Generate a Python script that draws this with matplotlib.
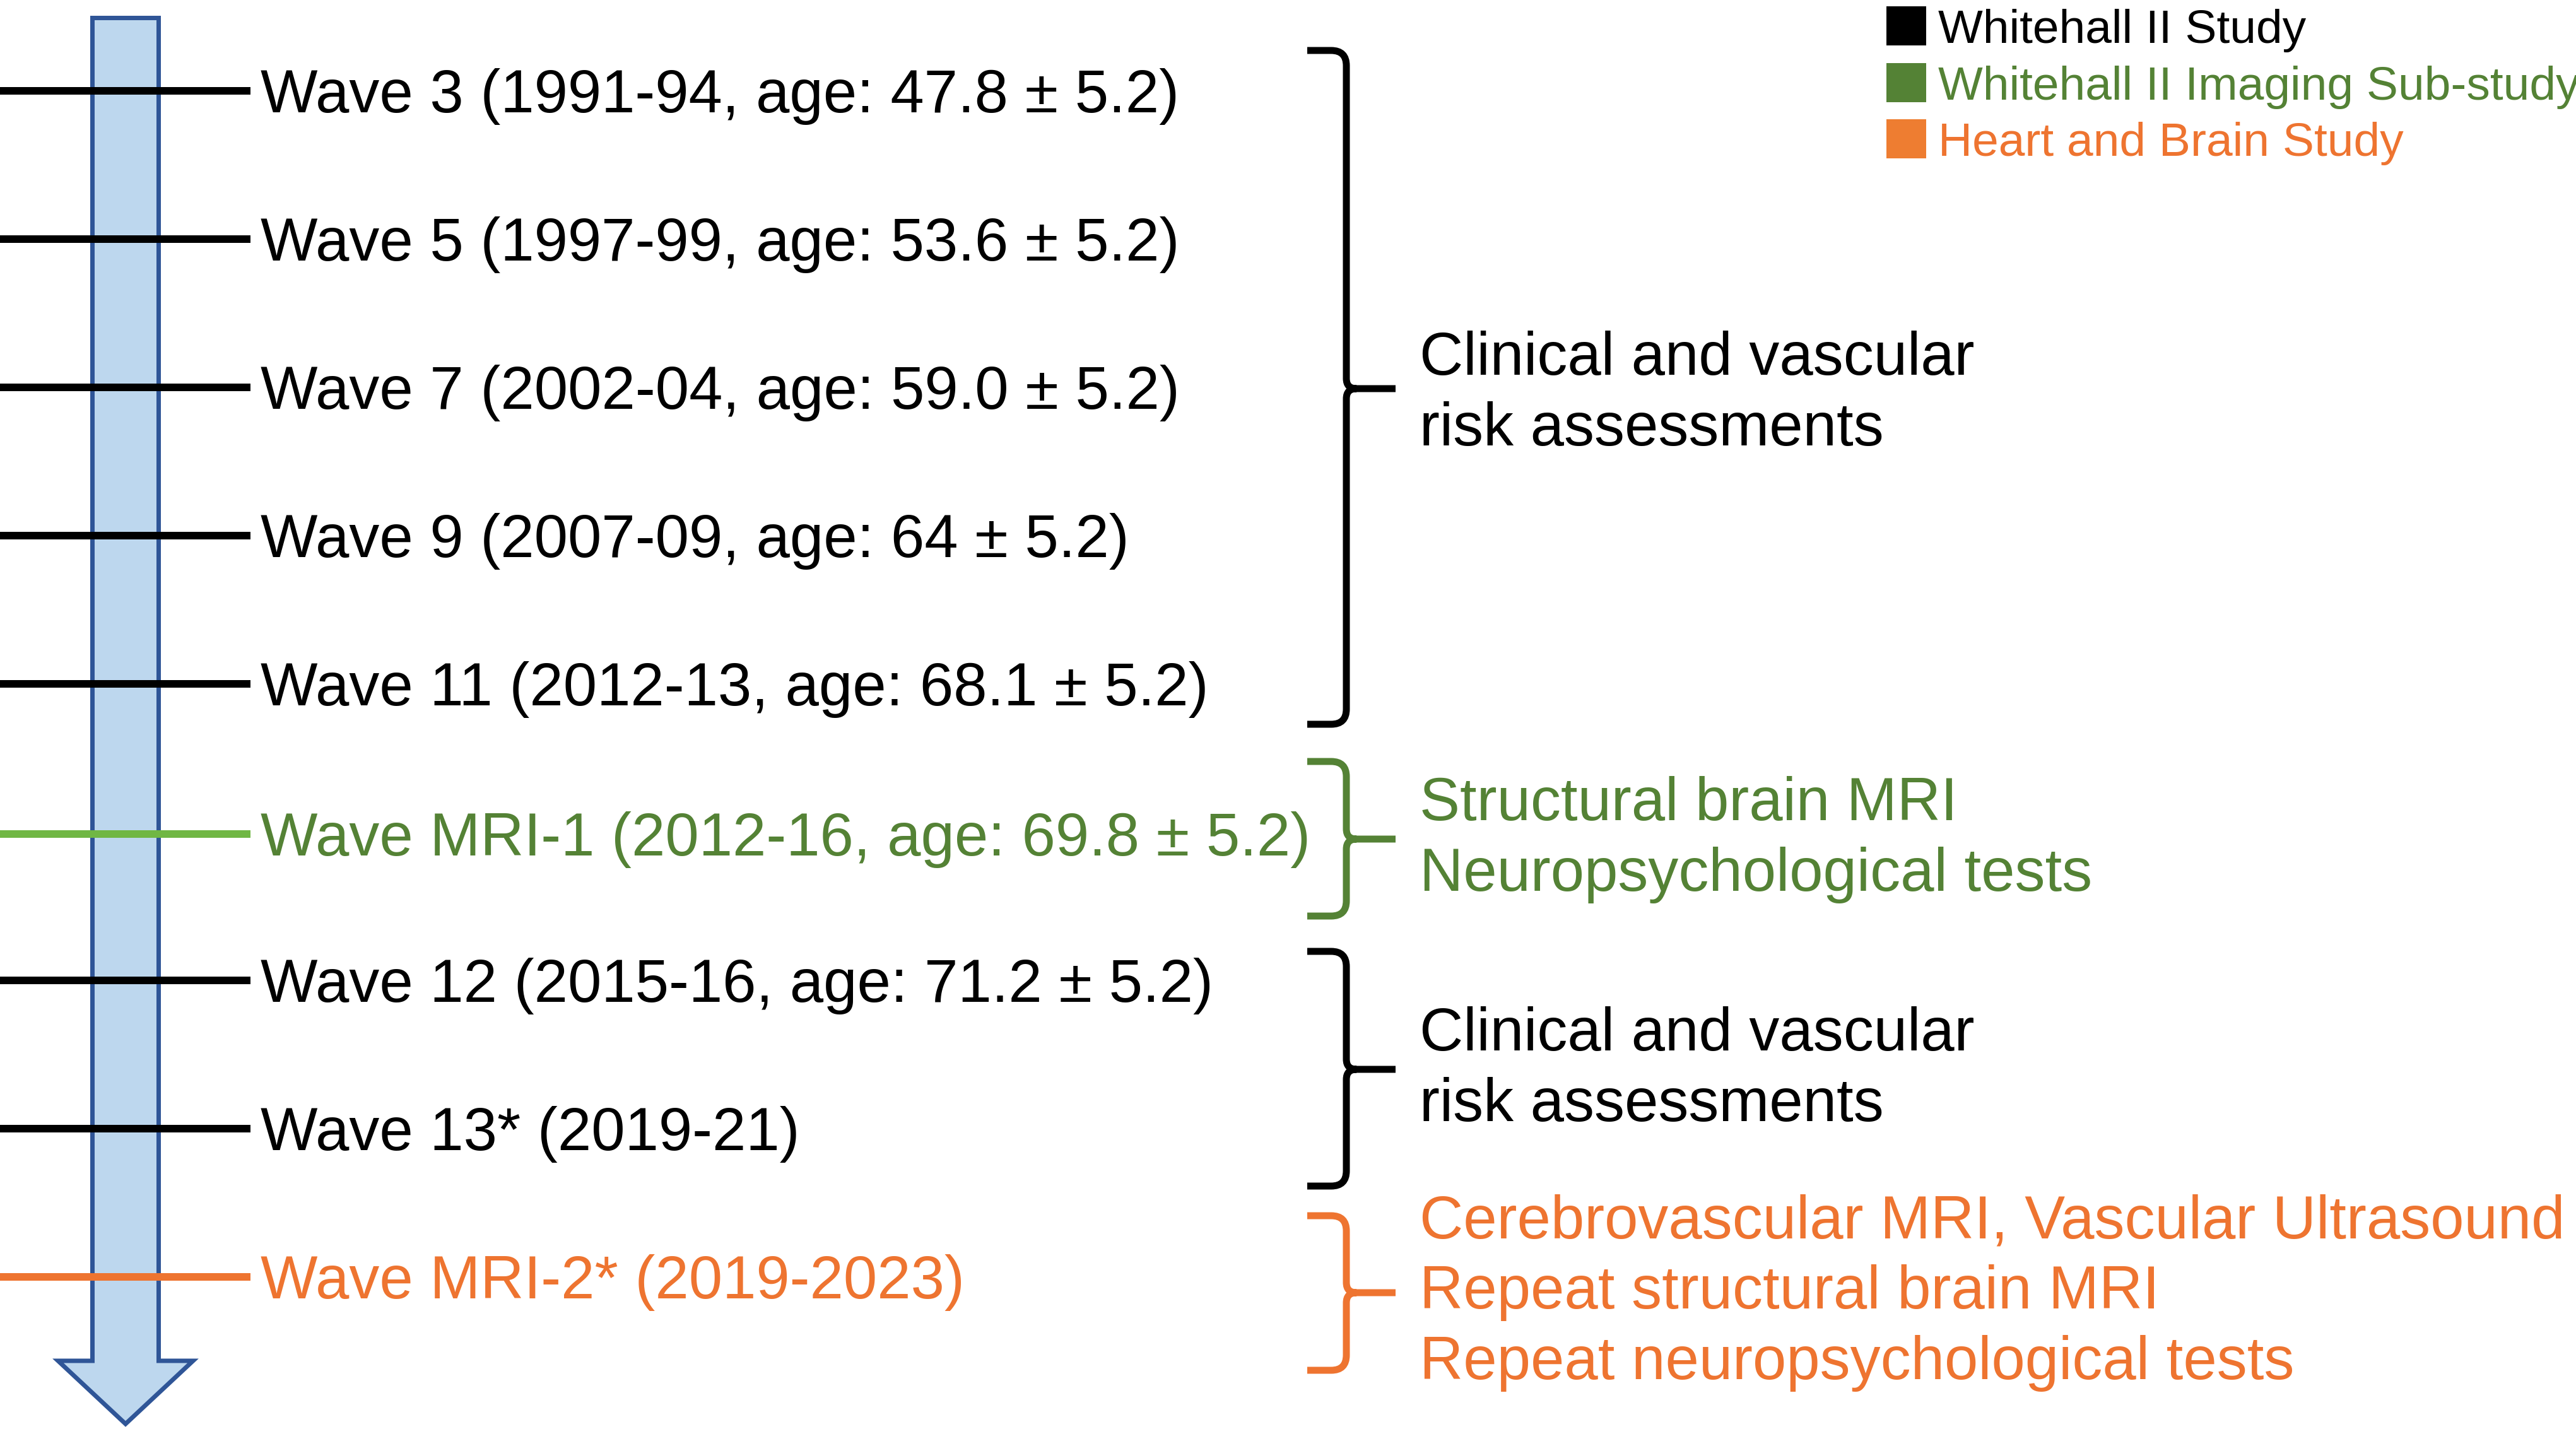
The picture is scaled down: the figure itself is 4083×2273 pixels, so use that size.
import matplotlib
matplotlib.use("Agg")
import matplotlib.pyplot as plt
from matplotlib.path import Path
from matplotlib.patches import PathPatch, Polygon, Rectangle

plt.rcParams['font.family'] = ['Liberation Sans', 'DejaVu Sans']

# ---- data ----
wave_labels = [
    "Wave 3 (1991-94, age: 47.8 \u00b1 5.2)",
    "Wave 5 (1997-99, age: 53.6 \u00b1 5.2)",
    "Wave 7 (2002-04, age: 59.0 \u00b1 5.2)",
    "Wave 9 (2007-09, age: 64 \u00b1 5.2)",
    "Wave 11 (2012-13, age: 68.1 \u00b1 5.2)",
    "Wave MRI-1 (2012-16, age: 69.8 \u00b1 5.2)",
    "Wave 12 (2015-16, age: 71.2 \u00b1 5.2)",
    "Wave 13* (2019-21)",
    "Wave MRI-2* (2019-2023)",
]
wave_study = [0, 0, 0, 0, 0, 1, 0, 0, 2]

group_texts = [
    ["Clinical and vascular", "risk assessments"],
    ["Structural brain MRI", "Neuropsychological tests"],
    ["Clinical and vascular", "risk assessments"],
    ["Cerebrovascular MRI, Vascular Ultrasound", "Repeat structural brain MRI",
     "Repeat neuropsychological tests"],
]
group_study = [0, 1, 0, 2]

legend_labels = ["Whitehall II Study", "Whitehall II Imaging Sub-study", "Heart and Brain Study"]

# ---- style / layout ----
text_colors = ["#000000", "#548235", "#EE7430"]
line_colors = ["#000000", "#70B744", "#EE7430"]
legend_colors = ["#000000", "#548235", "#EE7D31"]
legend_text_colors = ["#000000", "#548235", "#EE7430"]

W, H = 4083, 2273
fig = plt.figure(figsize=(W / 100, H / 100), dpi=100)
ax = fig.add_axes([0, 0, 1, 1])
ax.set_xlim(0, W)
ax.set_ylim(H, 0)
ax.axis('off')

PX = 0.72  # points per pixel

# arrow
shaft_l, shaft_r = 146.5, 251.5
top = 28.5
shoulder = 2157
head_l, head_r = 92, 306
tip = 2257
cx = (shaft_l + shaft_r) / 2
arrow = Polygon([(shaft_l, top), (shaft_r, top), (shaft_r, shoulder), (head_r, shoulder),
                 (cx, tip), (head_l, shoulder), (shaft_l, shoulder)], closed=True,
                facecolor="#BDD7EE", edgecolor="#2F5597", lw=7 * PX, joinstyle='miter', zorder=1)
ax.add_patch(arrow)

# wave lines and labels
y0, dy = 144, 235
wave_y = [y0 + i * dy for i in range(len(wave_labels))]
wave_y[5] += 3
fs_main = 69
cap = 0.716 * fs_main / 72 * 100
for y, lab, s in zip(wave_y, wave_labels, wave_study):
    ax.plot([0, 397], [y, y], color=line_colors[s], lw=12 * PX, solid_capstyle='butt', zorder=3)
    ax.text(413, y + cap / 2, lab, fontsize=fs_main, color=text_colors[s], ha='left', va='baseline')

# brackets
brackets = [(80, 1148, 616), (1207, 1452, 1330), (1508, 1880, 1695), (1927, 2172, 2049)]
text_shift = [0, -8, -8, -9]
x0, xv, xt = 2072, 2134, 2212
r, r2 = 24, 16


def bracket_path(T, B, M):
    verts, codes = [], []
    for end, sgn in ((T, 1), (B, -1)):
        verts += [(x0, end), (xv - r, end), (xv, end), (xv, end + sgn * r),
                  (xv, M - sgn * r2), (xv, M), (xv + r2, M)]
        codes += [Path.MOVETO, Path.LINETO, Path.CURVE3, Path.CURVE3,
                  Path.LINETO, Path.CURVE3, Path.CURVE3]
    verts += [(xv + r2 - 2, M), (xt, M)]
    codes += [Path.MOVETO, Path.LINETO]
    return Path(verts, codes)


line_gap = 112
for (T, B, M), lines, s, sh in zip(brackets, group_texts, group_study, text_shift):
    ax.add_patch(PathPatch(bracket_path(T, B, M), fill=False, edgecolor=text_colors[s],
                           lw=11 * PX, capstyle='butt', joinstyle='round'))
    n = len(lines)
    for i, t in enumerate(lines):
        yc = M + sh + (i - (n - 1) / 2) * line_gap
        ax.text(2250, yc + cap / 2, t, fontsize=fs_main, color=text_colors[s],
                ha='left', va='baseline')

# legend
fs_leg = 54
leg_y = [41, 131, 220]
leg_cap = 0.716 * fs_leg / 72 * 100
for y, lab, c, tc in zip(leg_y, legend_labels, legend_colors, legend_text_colors):
    ax.add_patch(Rectangle((2990, y - 31), 63, 62, facecolor=c, edgecolor='none'))
    ax.text(3072, y + leg_cap / 2, lab, fontsize=fs_leg, color=tc, ha='left', va='baseline')

fig.savefig("out.png", dpi=100, facecolor='white')
